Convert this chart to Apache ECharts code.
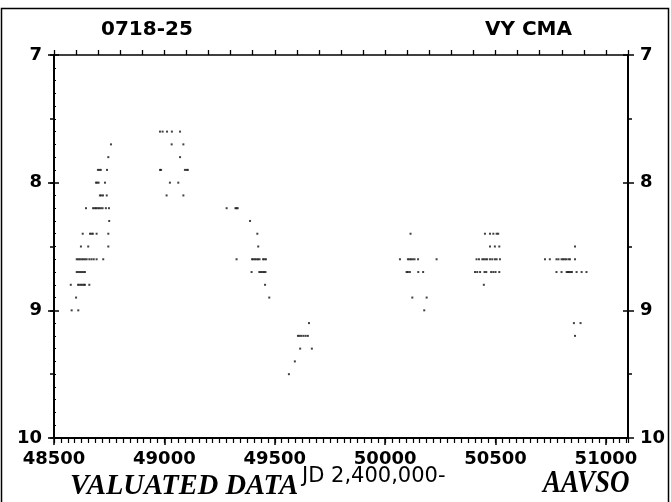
<!DOCTYPE html>
<html><head><meta charset="utf-8">
<script src="https://cdn.jsdelivr.net/npm/echarts@6/dist/echarts.min.js"></script>
<style>html,body{margin:0;padding:0;background:#fff}#c{width:671px;height:502px}</style>
</head><body><div id="c"></div>
<script>
// JD - 2,400,000 and visual magnitude
var riseBranch = [[48758,7.7],[48746,7.8],
 [48699,7.9],[48706,7.9],[48712,7.9],[48740,7.9],
 [48690,8.0],[48696,8.0],[48702,8.0],[48731,8.0],
 [48708,8.1],[48714,8.1],[48722,8.1],[48739,8.1],
 [48645,8.2],[48677,8.2],[48684,8.2],[48690,8.2],[48697,8.2],[48704,8.2],[48712,8.2],[48720,8.2],[48735,8.2],[48749,8.2],
 [48750,8.3],
 [48630,8.4],[48663,8.4],[48670,8.4],[48676,8.4],[48693,8.4],[48746,8.4],
 [48622,8.5],[48655,8.5],[48746,8.5],
 [48603,8.6],[48610,8.6],[48617,8.6],[48625,8.6],[48632,8.6],[48640,8.6],[48648,8.6],[48660,8.6],[48670,8.6],[48680,8.6],[48693,8.6],[48723,8.6],
 [48603,8.7],[48610,8.7],[48618,8.7],[48626,8.7],[48633,8.7],[48640,8.7],
 [48576,8.8],[48609,8.8],[48615,8.8],[48622,8.8],[48629,8.8],[48635,8.8],[48640,8.8],[48660,8.8],
 [48600,8.9],
 [48580,9.0],[48610,9.0]];
var maxGroup = [[48980,7.6],[48992,7.6],[49012,7.6],[49034,7.6],[49071,7.6],
 [49033,7.7],[49086,7.7],
 [49071,7.8],
 [48980,7.9],[48985,7.9],[49093,7.9],[49101,7.9],[49106,7.9],
 [49025,8.0],[49063,8.0],
 [49010,8.1],[49086,8.1]];
var declineGroup = [[49282,8.2],[49322,8.2],[49327,8.2],[49332,8.2],
 [49388,8.3],[49421,8.4],[49425,8.5],
 [49327,8.6],[49397,8.6],[49403,8.6],[49410,8.6],[49417,8.6],[49424,8.6],[49431,8.6],[49447,8.6],[49453,8.6],[49460,8.6],
 [49395,8.7],[49430,8.7],[49437,8.7],[49444,8.7],[49451,8.7],[49458,8.7],
 [49456,8.8],[49475,8.9]];
var minGroup = [[49564,9.5],[49591,9.4],[49615,9.3],[49668,9.3],
 [49605,9.2],[49612,9.2],[49620,9.2],[49630,9.2],[49640,9.2],[49650,9.2],[49655,9.1]];
var group1995 = [[50115,8.4],
 [50067,8.6],[50103,8.6],[50110,8.6],[50117,8.6],[50125,8.6],[50133,8.6],[50149,8.6],[50233,8.6],
 [50097,8.7],[50103,8.7],[50112,8.7],[50150,8.7],[50172,8.7],
 [50123,8.9],[50188,8.9],[50177,9.0]];
var group1997 = [[50452,8.4],[50475,8.4],[50490,8.4],[50505,8.4],[50512,8.4],
 [50475,8.5],[50497,8.5],[50517,8.5],
 [50414,8.6],[50425,8.6],[50440,8.6],[50447,8.6],[50455,8.6],[50462,8.6],[50475,8.6],[50485,8.6],[50497,8.6],[50505,8.6],[50520,8.6],
 [50407,8.7],[50417,8.7],[50430,8.7],[50450,8.7],[50458,8.7],[50480,8.7],[50490,8.7],[50500,8.7],[50517,8.7],
 [50447,8.8]];
var group1998 = [[50860,8.5],
 [50724,8.6],[50746,8.6],[50776,8.6],[50785,8.6],[50799,8.6],[50806,8.6],[50813,8.6],[50820,8.6],[50830,8.6],[50837,8.6],[50860,8.6],
 [50776,8.7],[50799,8.7],[50822,8.7],[50828,8.7],[50834,8.7],[50840,8.7],[50846,8.7],[50867,8.7],[50890,8.7],[50912,8.7],
 [50855,9.1],[50885,9.1],[50860,9.2]];
var xTickLabels = [48500,49000,49500,50000,50500,51000];
var yTickLabels = [7,8,9,10];

var chart = echarts.init(document.getElementById('c'));
var black = '#000';
var lblFont = {color:black,fontFamily:'DejaVu Sans',fontSize:18,fontWeight:'bold'};
function yAx(pos, interval, showLabel, inside, len, minor){
  return {type:'value',position:pos,inverse:true,min:7,max:10,interval:interval,
    axisLine:{show:true,lineStyle:{color:black,width:2}},
    axisTick:{show:true,inside:inside,length:len,lineStyle:{color:black,width:1.5}},
    minorTick:minor?{show:true,splitNumber:10,length:2,lineStyle:{color:black,width:1}}:{show:false},
    axisLabel:Object.assign({show:showLabel,margin:12,formatter:function(v){return yTickLabels.indexOf(v)>=0?String(v):'';}},lblFont),
    splitLine:{show:false}};
}
var series = [riseBranch,maxGroup,declineGroup,minGroup,group1995,group1997,group1998].map(function(d){
  return {type:'scatter',data:d,symbol:'rect',symbolSize:[2,2],itemStyle:{color:'#111'},silent:true,animation:false};
});
chart.setOption({
  animation:false,
  grid:{left:54,right:43,top:55,bottom:64},
  xAxis:[
    {type:'value',position:'bottom',min:48500,max:51100,interval:500,
     axisLine:{lineStyle:{color:black,width:2}},
     axisTick:{length:7,lineStyle:{color:black,width:1.5}},
     axisLabel:Object.assign({margin:12,showMaxLabel:false,formatter:function(v){return xTickLabels.indexOf(v)>=0?String(v):'';}},lblFont),
     splitLine:{show:false}},
    {type:'value',position:'bottom',min:48500,max:51100,interval:31.25,
     axisLine:{show:false},axisTick:{length:5,lineStyle:{color:black,width:1.2}},
     axisLabel:{show:false},splitLine:{show:false}},
    {type:'value',position:'top',min:48500,max:51100,interval:100,
     axisLine:{lineStyle:{color:black,width:1.5}},
     axisTick:{length:5,lineStyle:{color:black,width:1.3}},
     axisLabel:{show:false},splitLine:{show:false}}
  ],
  yAxis:[
    yAx('left',1,true,false,6,false),
    yAx('left',1,false,true,5,true),
    yAx('left',0.5,false,false,4,false),
    yAx('right',1,true,false,6,false),
    yAx('right',1,false,true,5,false),
    yAx('right',0.5,false,false,4,false)
  ],
  series:series,
  graphic:[
    {type:'rect',shape:{x:1.5,y:8.5,width:667,height:500},style:{fill:'none',stroke:black,lineWidth:1.5},silent:true},
    {type:'text',x:101,y:30,style:{text:'0718-25',font:'bold 20px "DejaVu Sans"',fill:black,verticalAlign:'middle'}},
    {type:'text',x:485,y:30,style:{text:'VY CMA',font:'bold 20px "DejaVu Sans"',fill:black,verticalAlign:'middle'}},
    {type:'text',x:70,y:487,style:{text:'VALUATED DATA',font:'italic bold 28.5px "Liberation Serif"',fill:black,verticalAlign:'middle'}},
    {type:'text',x:302,y:477,style:{text:'JD 2,400,000-',font:'21px "DejaVu Sans"',fill:black,verticalAlign:'middle'}},
    {type:'text',x:543,y:484,scaleY:1.2,originX:0,originY:0,style:{text:'AAVSO',font:'italic bold 27px "Liberation Serif"',fill:black,verticalAlign:'middle'}}
  ]
});
</script></body></html>
